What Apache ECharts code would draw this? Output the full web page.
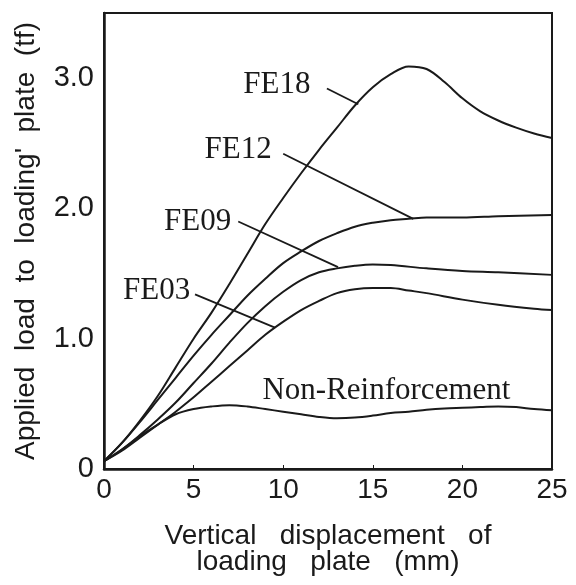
<!DOCTYPE html>
<html>
<head>
<meta charset="utf-8">
<script src="https://cdn.jsdelivr.net/npm/echarts@6/dist/echarts.min.js"></script>
<style>
  html, body { margin: 0; padding: 0; background: #fff; }
  #chart { width: 576px; height: 585px; }
</style>
</head>
<body>
<div id="chart"></div>
<script>
// displacement (mm), load (tf)
const fe18 = [[0,0.06],[1,0.2],[2,0.37],[3,0.56],[4,0.78],[5,1.0],[6,1.2],[7,1.42],[8,1.65],[9,1.88],[10,2.08],[11,2.27],[12,2.45],[13,2.62],[14,2.79],[15,2.93],[16,3.03],[17,3.09],[18,3.07],[19,2.97],[20,2.845],[21,2.745],[22,2.675],[23,2.62],[24,2.575],[25,2.54]]
const fe12 = [[0,0.06],[1,0.2],[2,0.36],[3,0.53],[4,0.7],[5,0.87],[6,1.03],[7,1.18],[8,1.33],[9,1.46],[10,1.58],[11,1.67],[12,1.75],[13,1.81],[14,1.86],[15,1.89],[16,1.91],[17,1.92],[18,1.93],[20,1.93],[22,1.94],[25,1.95]]
const fe09 = [[0,0.06],[1,0.15],[2,0.26],[3,0.38],[4,0.51],[5,0.66],[6,0.81],[7,0.97],[8,1.12],[9,1.25],[10,1.36],[11,1.45],[12,1.51],[13,1.54],[14,1.56],[15,1.57],[16,1.565],[18,1.54],[20,1.52],[22,1.51],[25,1.49]]
const fe03 = [[0,0.06],[1,0.14],[2,0.24],[3,0.34],[4,0.44],[5,0.55],[6,0.67],[7,0.79],[8,0.91],[9,1.03],[10,1.13],[11,1.22],[12,1.29],[13,1.35],[14,1.38],[15,1.39],[16,1.39],[17,1.37],[18,1.35],[20,1.3],[22,1.26],[24,1.23],[25,1.22]]
const nonReinf = [[0,0.06],[1,0.15],[2,0.25],[3,0.34],[4,0.42],[5,0.46],[6,0.48],[7,0.49],[8,0.48],[9,0.46],[10,0.44],[11,0.42],[12,0.4],[13,0.39],[14,0.395],[15,0.41],[16,0.43],[17,0.44],[18,0.455],[19,0.465],[20,0.47],[21,0.475],[22,0.48],[23,0.475],[24,0.46],[25,0.45]]

const xTicks = [0, 5, 10, 15, 20, 25]
const yTickLabels = { 0: '0', 1: '1.0', 2: '2.0', 3: '3.0' }

// label text, label position, leader start, leader end (data units)
const fe18Note = { text: 'FE18', at: [9.65, 2.95], from: [12.44, 2.92], to: [14.19, 2.8] }
const fe12Note = { text: 'FE12', at: [7.48, 2.45], from: [10.0, 2.42], to: [17.26, 1.92] }
const fe09Note = { text: 'FE09', at: [5.22, 1.9], from: [7.49, 1.9], to: [13.06, 1.55] }
const fe03Note = { text: 'FE03', at: [2.94, 1.37], from: [5.08, 1.34], to: [9.54, 1.085] }
const nonNote = { text: 'Non-Reinforcement', at: [15.76, 0.6] }

const ink = '#1a1a1a'
const noteFont = { fontFamily: 'Liberation Serif', fontSize: 31, color: ink }

const makeSeries = (name, data, note) => {
  const s = {
    name: name,
    type: 'line',
    data: data,
    smooth: 0.35,
    showSymbol: false,
    lineStyle: { color: ink, width: 2 },
    z: 3,
    markPoint: {
      symbol: 'circle',
      symbolSize: 0,
      silent: true,
      data: [{ coord: note.at, value: note.text }],
      label: { show: true, position: 'inside', formatter: note.text, ...noteFont }
    }
  }
  if (note.from) {
    s.markLine = {
      silent: true,
      symbol: ['none', 'none'],
      lineStyle: { color: ink, width: 1.8, type: 'solid' },
      label: { show: false },
      data: [[{ coord: note.from }, { coord: note.to }]]
    }
  }
  return s
}

const chart = echarts.init(document.getElementById('chart'))
chart.setOption({
  animation: false,
  backgroundColor: '#fff',
  grid: {
    left: 104, right: 24, top: 13, bottom: 116,
    show: true, borderColor: ink, borderWidth: 2
  },
  xAxis: {
    type: 'value',
    min: xTicks[0],
    max: xTicks[xTicks.length - 1],
    interval: 5,
    name: 'Vertical   displacement   of\nloading   plate   (mm)',
    nameLocation: 'middle',
    nameGap: 54,
    nameTextStyle: { fontFamily: 'Liberation Sans', fontSize: 28, color: ink, lineHeight: 26 },
    axisLine: { show: true, lineStyle: { color: ink, width: 2.5 } },
    axisTick: { show: true, inside: true, length: 4, lineStyle: { color: ink } },
    axisLabel: { fontFamily: 'Liberation Sans', fontSize: 28, color: ink, margin: 7 },
    splitLine: { show: false }
  },
  yAxis: {
    type: 'value',
    min: 0,
    max: 3.5,
    interval: 1,
    name: "Applied  load  to  loading'  plate  (tf)",
    nameLocation: 'middle',
    nameGap: 64,
    nameTextStyle: { fontFamily: 'Liberation Sans', fontSize: 28, color: ink },
    axisLine: { show: true, lineStyle: { color: ink, width: 2.5 } },
    axisTick: { show: false },
    axisLabel: {
      fontFamily: 'Liberation Sans', fontSize: 29, color: ink, margin: 10,
      formatter: (v) => yTickLabels[v] !== undefined ? yTickLabels[v] : ''
    },
    splitLine: { show: false }
  },
  series: [
    makeSeries('FE18', fe18, fe18Note),
    makeSeries('FE12', fe12, fe12Note),
    makeSeries('FE09', fe09, fe09Note),
    makeSeries('FE03', fe03, fe03Note),
    makeSeries('Non-Reinforcement', nonReinf, nonNote)
  ]
})
</script>
</body>
</html>
